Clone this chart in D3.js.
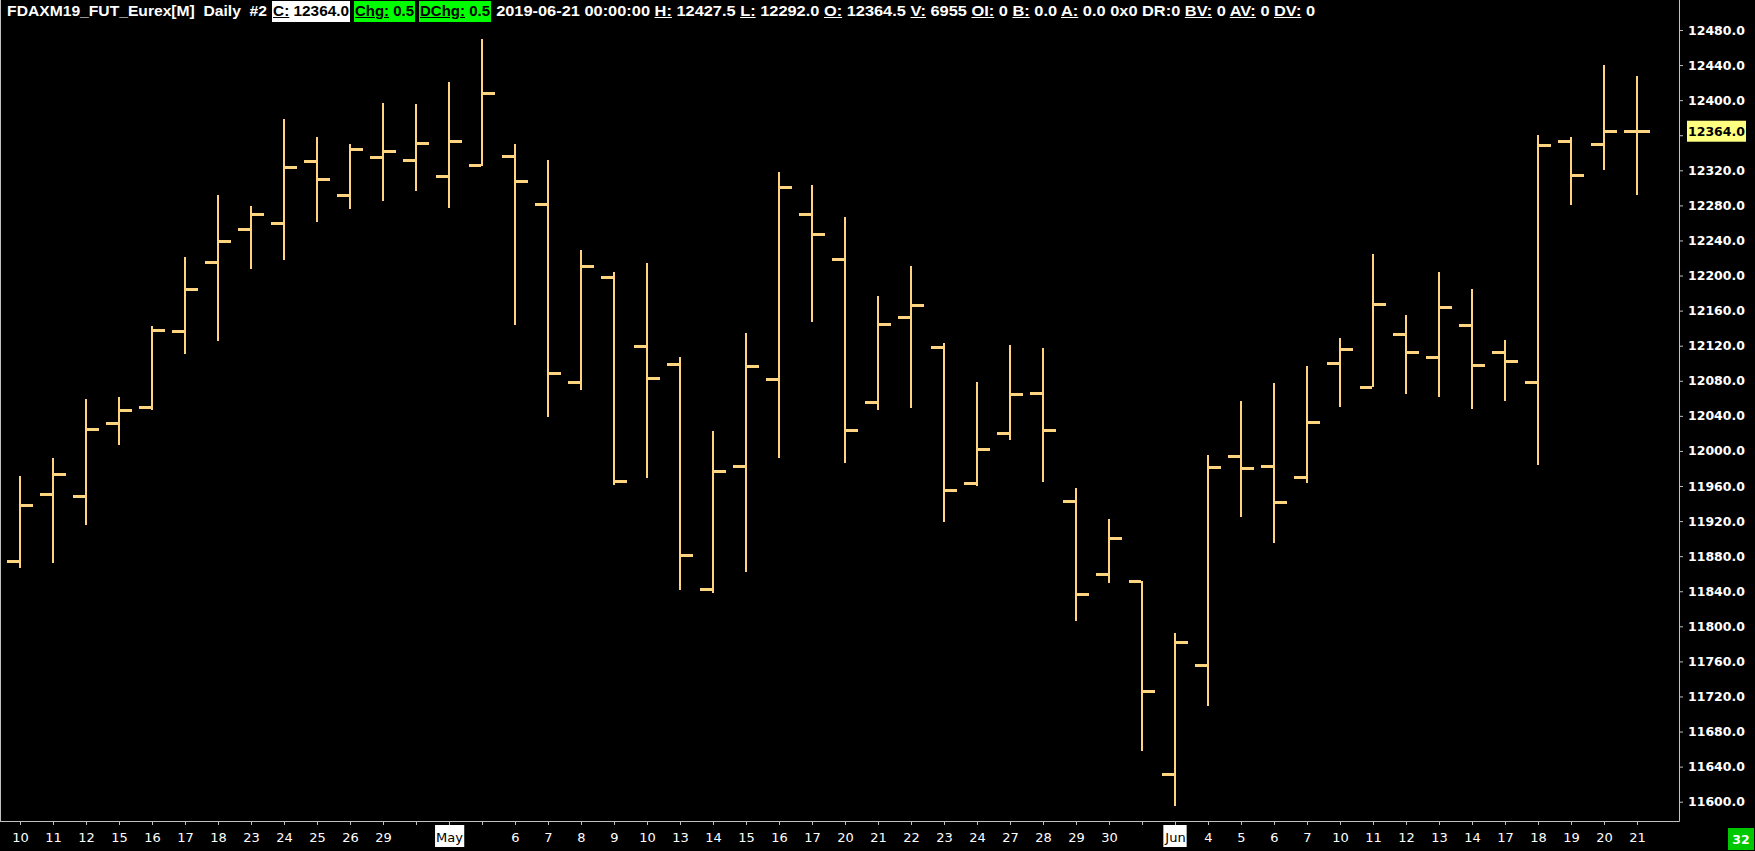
<!DOCTYPE html>
<meta charset="utf-8">
<style>
body { margin: 0; background: #000; overflow: hidden; width: 1755px; height: 851px; }
svg { position: absolute; left: 0; top: 0; }
#hdr { position: absolute; left: 0; top: 0; width: 1755px; height: 23px;
       font: bold 14.5px "Liberation Sans", sans-serif; color: #fff; white-space: pre; }
#hdr .seg { position: absolute; top: 1px; height: 21px; line-height: 21px; overflow: hidden; }
#hdr .seg span { display: inline-block; transform-origin: 0 50%; padding-left: 1px; }
.axis text { font: bold 12.5px "DejaVu Sans", sans-serif; fill: #fff; }
.axis.x text { font: 13px "DejaVu Sans", sans-serif; }
.axis line { stroke: #c0c0c0; }
</style>
<body>
<script src="https://d3js.org/d3.v7.min.js"></script>
<script>

// ---- data (FDAXM19 daily, 10 Apr - 21 Jun 2019) ----
var labels = ["10","11","12","15","16","17","18","23","24","25","26","29","",
  "May","","6","7","8","9","10","13","14","15","16","17","20","21","22","23","24","27","28","29","30","",
  "Jun","4","5","6","7","10","11","12","13","14","17","18","19","20","21"];

var open = [11873.5,11950.5,11948,12031.5,12050,12136,12214.5,12253,12259.5,12330,12291,12335,12331,
  12313.5,12326,12335.5,12281,12077.5,12197.5,12119.5,12099,11841.5,11982.5,12081.5,12270,12218.5,
  12055,12152,12118,11963,12020,12065.5,11942,11859,11851.5,
  11630.5,11755.5,11993.5,11982.5,11969.5,12100,12072.5,12133,12106,12142.5,12112,12078.5,12353,12350,12364.5];

var high = [11971.5,11991.5,12059,12061.5,12142,12221,12292,12279,12378.5,12358.5,12350,12397,12395.5,
  12420.5,12470,12350,12332,12229,12204,12214.5,12107,12022.5,12134.5,12318,12303.5,12267,
  12177,12211,12123,12078.5,12121,12117.5,11958,11922.5,11851.5,
  11792,11995,12057,12077.5,12096.5,12128.5,12224,12154.5,12203.5,12185,12126,12360.5,12358,12440,12427.5];

var low = [11866.5,11872,11915.5,12006.5,12046.5,12111,12125,12207,12217.5,12261.5,12275.5,12284.5,12296,
  12277,12324.5,12143.5,12039,12069.5,11961,11969,11841.5,11837.5,11861.5,11991.5,12147,11986.5,
  12047,12048.5,11919,11960.5,12012.5,11964.5,11806,11849,11657.5,
  11595.5,11709,11925,11895,11963,12050.5,12072.5,12064.5,12062,12048,12057,11984,12281,12320.5,12292];

var close = [11937.5,11973.5,12025,12046.5,12137,12184,12239,12269.5,12323.5,12309.5,12344,12341.5,12351,
  12353,12408,12307,12088.5,12210.5,11965,12082.5,11880.5,11976.5,12096.5,12300.5,12247,12023,
  12144,12165.5,11955,12001.5,12064.5,12023,11836.5,11900.5,11725.5,
  11781.5,11981,11980,11941,12032.5,12115.5,12166.5,12112,12164,12097.5,12101.5,12348,12314.5,12364,12364];

var monthLabels = ["May", "Jun"];
var yTicks = d3.range(11600, 12481, 40);
var lastPrice = 12364.0;
var barCount = 32;

var barColor = "#ffd480";

// ---- layout ----
var width = 1755, height = 851;
var axisX = 1679, axisY = 821;

var svg = d3.select("body").append("svg")
    .attr("width", width)
    .attr("height", height);

var x = d3.scalePoint()
    .domain(d3.range(labels.length))
    .range([20, 1637]);

var y = d3.scaleLinear()
    .domain([11600, 12480])
    .range([801.7, 30]);

// frame lines
svg.append("line").attr("x1", 0.5).attr("x2", 0.5).attr("y1", 0).attr("y2", axisY)
    .attr("stroke", "#c0c0c0");
svg.append("line").attr("x1", 0).attr("x2", axisX + 0.5).attr("y1", axisY + 0.5).attr("y2", axisY + 0.5)
    .attr("stroke", "#c0c0c0");
svg.append("line").attr("x1", axisX + 0.5).attr("x2", axisX + 0.5).attr("y1", 0).attr("y2", axisY + 0.5)
    .attr("stroke", "#c0c0c0");

// OHLC bars
var idx = d3.range(labels.length);
var bars = svg.append("g").attr("fill", barColor).attr("shape-rendering", "crispEdges");

bars.selectAll(".hl").data(idx).join("rect")
    .attr("class", "hl")
    .attr("x", function(i) { return x(i) - 1; })
    .attr("width", 2)
    .attr("y", function(i) { return y(high[i]); })
    .attr("height", function(i) { return y(low[i]) - y(high[i]); });

bars.selectAll(".op").data(idx).join("rect")
    .attr("class", "op")
    .attr("x", function(i) { return x(i) - 13; })
    .attr("width", 12)
    .attr("y", function(i) { return y(open[i]) - 1.5; })
    .attr("height", 3);

bars.selectAll(".cl").data(idx).join("rect")
    .attr("class", "cl")
    .attr("x", function(i) { return x(i) + 1; })
    .attr("width", 12)
    .attr("y", function(i) { return y(close[i]) - 1.5; })
    .attr("height", 3);

// y axis (right)
var yAxisG = svg.append("g")
    .attr("class", "axis y")
    .attr("transform", "translate(" + axisX + ",0)")
    .call(d3.axisRight(y).tickValues(yTicks).tickSize(4).tickPadding(5).tickFormat(d3.format(".1f")));
yAxisG.select(".domain").remove();

// x axis (bottom)
var xAxisG = svg.append("g")
    .attr("class", "axis x")
    .attr("transform", "translate(0," + axisY + ")")
    .call(d3.axisBottom(x).tickSize(4).tickPadding(7.5).tickFormat(function(i) { return labels[i]; }));
xAxisG.select(".domain").remove();

// month names get a white box
xAxisG.selectAll(".tick").each(function(i) {
  if (monthLabels.indexOf(labels[i]) < 0) return;
  var t = d3.select(this).select("text");
  var bb = t.node().getBBox();
  d3.select(this).insert("rect", "text")
      .attr("x", bb.x - 1).attr("width", bb.width + 2)
      .attr("y", 4).attr("height", 22)
      .attr("fill", "#fff");
  t.style("fill", "#000");
});

// last price marker
var lp = svg.append("g");
lp.append("rect")
    .attr("x", 1687).attr("width", 59)
    .attr("y", y(lastPrice) - 11).attr("height", 21)
    .attr("fill", "#ffff80");
lp.append("text")
    .attr("x", 1688).attr("y", y(lastPrice))
    .attr("dy", "0.36em")
    .style("font", "bold 12.5px 'DejaVu Sans', sans-serif")
    .attr("fill", "#000")
    .text(d3.format(".1f")(lastPrice));

// bar count box, bottom right
svg.append("rect").attr("x", 1728).attr("y", 828).attr("width", 26).attr("height", 22)
    .attr("fill", "#00c800");
svg.append("text").attr("x", 1741).attr("y", 839).attr("dy", "0.36em")
    .attr("text-anchor", "middle")
    .style("font", "bold 12.5px 'DejaVu Sans', sans-serif")
    .attr("fill", "#fff")
    .text(barCount);

// ---- header line ----
var n = labels.length - 1;
var f1 = d3.format(".1f");
var headerParts = [
  {x: 6, w: 262, html: "FDAXM19_FUT_Eurex[M]  Daily  #2"},
  {x: 272, w: 78, html: "<u>C:</u> " + f1(close[n]), bg: "#fff", fg: "#000"},
  {x: 354, w: 61, html: "<u>Chg:</u> 0.5", bg: "#00ff00", fg: "#000"},
  {x: 419, w: 72, html: "<u>DChg:</u> 0.5", bg: "#00ff00", fg: "#000"},
  {x: 495, w: 821, html: "2019-06-21 00:00:00 <u>H:</u> " + f1(high[n]) + " <u>L:</u> " + f1(low[n]) +
     " <u>O:</u> " + f1(open[n]) + " <u>V:</u> 6955 <u>OI:</u> 0 <u>B:</u> 0.0 <u>A:</u> 0.0 0x0 DR:0 <u>BV:</u> 0 <u>AV:</u> 0 <u>DV:</u> 0"}
];

var hdr = d3.select("body").append("div").attr("id", "hdr");
headerParts.forEach(function(p) {
  var s = hdr.append("div").attr("class", "seg")
      .style("left", p.x + "px")
      .style("width", p.w + "px")
      .style("background", p.bg || "none")
      .style("color", p.fg || "#fff");
  var inner = s.append("span").html(p.html);
  var nw = inner.node().getBoundingClientRect().width;
  inner.style("transform", "scaleX(" + ((p.w - 1) / nw) + ")");
});

</script>
</body>
